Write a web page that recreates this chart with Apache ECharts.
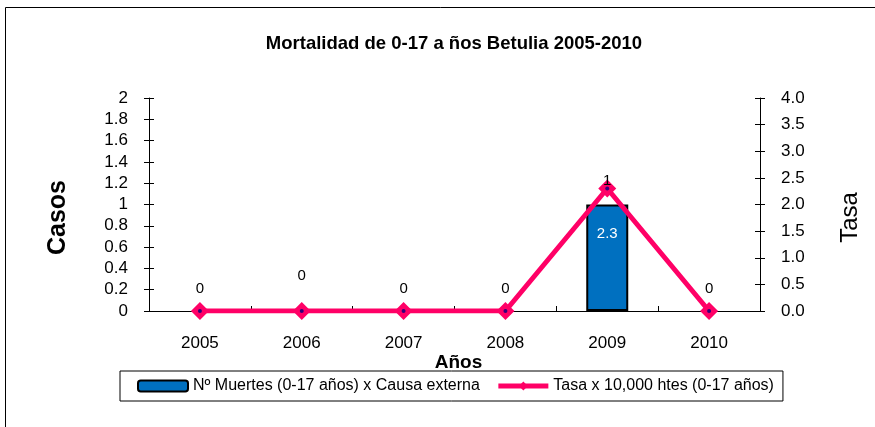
<!DOCTYPE html>
<html><head><meta charset="utf-8">
<script src="https://cdn.jsdelivr.net/npm/echarts@6/dist/echarts.min.js"></script>
<style>html,body{margin:0;padding:0;background:#fff}#c{width:875px;height:427px}</style>
</head><body><div id="c"></div>
<script>
const years = ['2005','2006','2007','2008','2009','2010'];
const deaths = [0, 0, 0, 0, 1, 0];
const rate = [0, 0, 0, 0, 2.3, 0];
const leftTicks = ['0','0.2','0.4','0.6','0.8','1','1.2','1.4','1.6','1.8','2'];
const barName = 'Nº Muertes (0-17 años) x Causa externa';
const lineName = 'Tasa x 10,000 htes (0-17 años)';

const chart = echarts.init(document.getElementById('c'));
const font = 'Liberation Sans, Arial, sans-serif';
const innerTick = {show: true, inside: true, length: 5, lineStyle: {color: '#000'}};
chart.setOption({
  animation: false,
  textStyle: {fontFamily: font},
  title: {text: 'Mortalidad de 0-17 a ños Betulia 2005-2010', left: 449, textAlign: 'center', top: 29,
    textStyle: {fontSize: 18.5, fontWeight: 'bold', color: '#000', fontFamily: font}},
  graphic: [{type: 'rect', shape: {x: 5.5, y: 7.5, width: 880, height: 430}, style: {fill: 'none', stroke: '#000', lineWidth: 1}, z: -1}],
  legend: {
    data: [barName, {name: lineName, lineStyle: {width: 5, color: '#FF0066'}, itemStyle: {color: '#FF0066'}}],
    left: 120, top: 371, padding: [7, 9, 7, 17], itemGap: 16,
    borderColor: '#000', borderWidth: 1, itemWidth: 50, itemHeight: 11,
    textStyle: {fontSize: 16, color: '#000', fontFamily: font}
  },
  grid: {left: 149, right: 115, top: 98, bottom: 116},
  xAxis: [
    {type: 'category', data: years, name: 'Años', nameLocation: 'middle', nameGap: 34,
     nameTextStyle: {fontSize: 19, fontWeight: 'bold', color: '#000', padding: [0, 0, 0, 8]},
     axisLine: {lineStyle: {color: '#000'}}, axisTick: {length: 5, lineStyle: {color: '#000'}},
     axisLabel: {fontSize: 17, color: '#000', margin: 24}},
    {type: 'category', data: years, position: 'bottom', axisLine: {show: false},
     axisTick: innerTick, axisLabel: {show: false}}
  ],
  yAxis: [
    {type: 'value', min: 0, max: 2, interval: 0.2, name: 'Casos', nameLocation: 'middle', nameGap: 78,
     nameTextStyle: {fontSize: 25, fontWeight: 'bold', color: '#000', padding: [0, 26, 0, 0]},
     axisLine: {show: true, lineStyle: {color: '#000'}}, axisTick: {show: true, length: 5, lineStyle: {color: '#000'}},
     splitLine: {show: false},
     axisLabel: {fontSize: 17, color: '#000', margin: 21, formatter: v => leftTicks[Math.round(v / 0.2)]}},
    {type: 'value', min: 0, max: 4, interval: 0.5, name: 'Tasa', nameLocation: 'middle', nameGap: 78, nameRotate: 90,
     nameTextStyle: {fontSize: 24, color: '#000', padding: [0, 26, 0, 0]},
     axisLine: {show: true, lineStyle: {color: '#000'}}, axisTick: {show: true, length: 5, lineStyle: {color: '#000'}},
     splitLine: {show: false},
     axisLabel: {fontSize: 17, color: '#000', margin: 21, formatter: v => v.toFixed(1)}},
    {type: 'value', min: 0, max: 2, interval: 0.2, position: 'left', axisLine: {show: false},
     axisTick: innerTick, axisLabel: {show: false}, splitLine: {show: false}},
    {type: 'value', min: 0, max: 4, interval: 0.5, position: 'right', axisLine: {show: false},
     axisTick: innerTick, axisLabel: {show: false}, splitLine: {show: false}}
  ],
  series: [
    {name: barName, type: 'bar', barWidth: 42,
     data: deaths.map((v, i) => v > 0 ? v : {value: v, itemStyle: {borderWidth: 0}}),
     itemStyle: {color: '#0070C0', borderColor: '#000', borderWidth: 2},
     label: {show: true, position: 'insideTop', distance: 22, color: '#fff', fontSize: 15,
       formatter: p => p.value > 0 ? rate[p.dataIndex].toFixed(1) : ''}},
    {name: lineName, type: 'line', yAxisIndex: 1, data: rate, symbol: 'diamond', symbolSize: 18,
     lineStyle: {color: '#FF0066', width: 5}, itemStyle: {color: '#FF0066'},
     label: {show: true, position: 'top', distance: 6, color: '#000', fontSize: 15,
       formatter: p => String(deaths[p.dataIndex])},
     labelLayout: p => p.dataIndex === 1 ? {dy: -13} : (p.dataIndex === 4 ? {dy: 15} : {}), z: 3},
    {name: 'dot', type: 'scatter', yAxisIndex: 1, data: rate, symbol: 'circle', symbolSize: 4,
     itemStyle: {color: '#000080'}, z: 4, silent: true}
  ]
});
</script></body></html>
